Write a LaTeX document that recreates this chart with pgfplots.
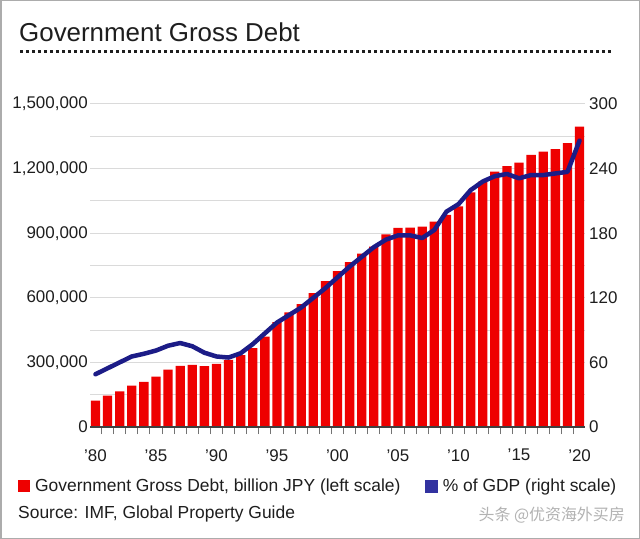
\documentclass[border=0pt]{standalone}
\usepackage{pgfplots}
\pgfplotsset{compat=1.18}
\usepackage{fontspec}
\setmainfont{Liberation Sans}
\newfontfamily\cjk{Noto Sans CJK SC}
\definecolor{barred}{RGB}{238,0,0}
\definecolor{navy}{RGB}{28,28,135}
\definecolor{legnavy}{RGB}{50,50,160}
\definecolor{txt}{RGB}{30,30,30}
\definecolor{gridc}{RGB}{218,218,218}
\begin{document}
\begin{tikzpicture}
\useasboundingbox (0,0) rectangle (640bp,539bp);
\fill[white] (0,0) rectangle (640bp,539bp);
\draw[gray!65, line width=1.5bp] (0.75bp,0.75bp) rectangle (639.25bp,538.25bp);
\begin{axis}[
  scale only axis, width=495bp, height=323bp,
  at={(90bp,112bp)}, anchor=south west,
  xmin=1979.55, xmax=2020.45, ymin=0, ymax=1500000,
  axis x line*=bottom, axis y line*=left,
  axis line style={draw=none},
  major tick length=0pt,
  scaled x ticks=false, scaled y ticks=false,
  xtick={1980,1985,...,2020},
  xticklabels={'80,'85,'90,'95,'00,'05,'10,'15,'20},
  xtick style={draw=none}, ytick style={draw=none},
  ytick={0,150000,...,1500000},
  yticklabels={0,,{300,000},,{600,000},,{900,000},,{1,200,000},,{1,500,000}},
  ymajorgrids, major grid style={draw=gridc, line width=1bp},
  ticklabel style={font=\fontsize{17}{17}\selectfont, text=txt},
  yticklabel style={anchor=east, inner sep=0pt, xshift=-2bp},
  xticklabel style={anchor=north, inner sep=0pt, yshift=-22bp},
  legend columns=2,
  legend style={at={(axis description cs:-0.1455,-0.1827)}, anchor=west,
    draw=none, fill=none, inner sep=0pt,
    font=\fontsize{17.5}{20}\selectfont, text=txt,
    nodes={inner sep=0pt},
    /tikz/every odd column/.append style={column sep=5bp},
    /tikz/every even column/.append style={column sep=25bp}},
]
\addplot[ybar, bar width=9.3bp, fill=barred, draw=none,
  legend image code/.code={\fill[barred] (0bp,-6bp) rectangle (12bp,6bp);}]
coordinates {
(1980,122000) (1981,146000) (1982,166000) (1983,192000) (1984,210000)
(1985,234000) (1986,266000) (1987,284000) (1988,289000) (1989,283000)
(1990,293000) (1991,312000) (1992,334000) (1993,366000) (1994,420000)
(1995,487000) (1996,532000) (1997,571000) (1998,622000) (1999,678000)
(2000,724000) (2001,766000) (2002,805000) (2003,838000) (2004,894000)
(2005,925000) (2006,926000) (2007,930000) (2008,954000) (2009,985000)
(2010,1024000) (2011,1089000) (2012,1140000) (2013,1186000) (2014,1212000)
(2015,1228000) (2016,1264000) (2017,1279000) (2018,1291000) (2019,1318000)
(2020,1395000)
};
\addlegendentry{Government Gross Debt, billion JPY (left scale)}
\addlegendimage{legend image code/.code={\fill[legnavy] (0bp,-6bp) rectangle (12bp,6bp);}}
\addlegendentry{\% of GDP (right scale)}
\end{axis}
\begin{axis}[
  scale only axis, width=495bp, height=323bp,
  at={(90bp,112bp)}, anchor=south west,
  xmin=1979.55, xmax=2020.45, ymin=0, ymax=300,
  axis x line*=bottom, axis y line*=right,
  x axis line style={draw=black!75, line width=1.3bp},
  y axis line style={draw=none},
  scaled x ticks=false,
  /pgf/number format/assume math mode=true,
  xtick={1980.5,1981.5,...,2019.5}, xticklabels={},
  xticklabel style={text opacity=0},
  major tick length=7bp, tick align=outside,
  xtick style={draw=black!55, line width=1bp},
  ytick={0,60,...,300}, ytick style={draw=none},
  ticklabel style={font=\fontsize{17}{17}\selectfont, text=txt},
  yticklabel style={anchor=west, inner sep=0pt, xshift=-3bp},
]
\addplot[navy, line width=4.5bp, line join=round, line cap=round]
coordinates {
(1980,49) (1981,54.5) (1982,60) (1983,65.5) (1984,68)
(1985,71) (1986,75.5) (1987,78) (1988,75) (1989,69)
(1990,65.5) (1991,64.5) (1992,68.5) (1993,77) (1994,87)
(1995,97) (1996,104) (1997,111) (1998,120) (1999,129)
(2000,139) (2001,149) (2002,158) (2003,167) (2004,174)
(2005,178) (2006,178) (2007,175.5) (2008,183) (2009,200)
(2010,207) (2011,220) (2012,228) (2013,233) (2014,235)
(2015,231) (2016,234) (2017,234) (2018,235.5) (2019,237)
(2020,266)
};
\end{axis}
\node[anchor=base west, inner sep=0pt, text=txt, font=\fontsize{26}{26}\selectfont] at (19bp,497bp) {Government Gross Debt};
\draw[txt, line width=3bp, dash pattern=on 3bp off 3bp] (20bp,487bp) -- (612bp,487bp);
\node[anchor=base west, inner sep=0pt, text=txt, font=\fontsize{17.5}{20}\selectfont] at (18bp,21bp) {Source: IMF, Global Property Guide};
\node[anchor=base east, inner sep=0pt, text=gray!60, font=\cjk\fontsize{16}{16}\selectfont] at (625bp,19bp) {头条 @优资海外买房};
\end{tikzpicture}
\end{document}
